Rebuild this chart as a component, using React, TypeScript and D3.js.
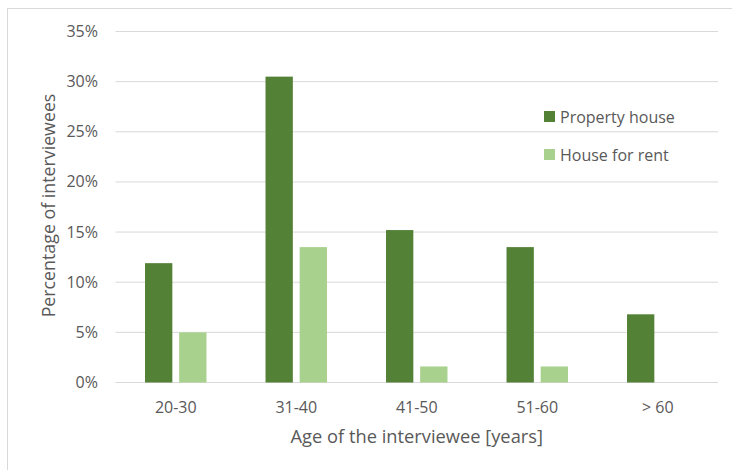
import React from 'react';
import * as d3 from 'd3';

const categories = ['20-30', '31-40', '41-50', '51-60', '> 60'];
const seriesNames = ['Property house', 'House for rent'];
const propertyHouse = [11.9, 30.5, 15.2, 13.5, 6.8];
const houseForRent = [5.0, 13.5, 1.6, 1.6, 0];
const yTicks = [0, 5, 10, 15, 20, 25, 30, 35];

const colors = ['#538135', '#A9D18E'];
const textColor = '#595959';
const gridColor = '#D9D9D9';
const font = '"Open Sans", "Segoe UI", sans-serif';

const width = 732;
const height = 470;
const plot = { left: 115.5, right: 718, top: 31.5, bottom: 382.5 };

const App = () => {
  const x0 = d3.scaleBand<string>()
    .domain(categories)
    .range([plot.left, plot.right])
    .paddingInner(0.49)
    .paddingOuter(0.245);
  const x1 = d3.scaleBand<string>()
    .domain(seriesNames)
    .range([0, x0.bandwidth()])
    .paddingInner(0.2);
  const y = d3.scaleLinear().domain([0, 35]).range([plot.bottom, plot.top]);

  const values = [propertyHouse, houseForRent];
  const cx = (plot.left + plot.right) / 2;

  return (
    <svg
      width={width}
      height={height}
      style={{ position: 'absolute', left: 0, top: 0, background: '#fff' }}
      fontFamily={font}
    >
      <rect x={7.5} y={8.5} width={800} height={600} fill="#fff" stroke={gridColor} />

      <g className="grid">
        {yTicks.map((t) => (
          <g key={t}>
            <line x1={plot.left} x2={plot.right} y1={y(t)} y2={y(t)} stroke={gridColor} strokeWidth={1} />
            <text x={98} y={y(t) + 5.5} textAnchor="end" fontSize={16} fill={textColor}>
              {t}%
            </text>
          </g>
        ))}
      </g>

      <g className="bars">
        {categories.map((c, i) => (
          <g key={c} transform={`translate(${x0(c)},0)`}>
            {seriesNames.map((s, j) => {
              const v = values[j][i];
              if (!v) return null;
              return (
                <rect
                  key={s}
                  x={x1(s)}
                  y={y(v)}
                  width={x1.bandwidth()}
                  height={y(0) - y(v)}
                  fill={colors[j]}
                />
              );
            })}
          </g>
        ))}
      </g>

      <g className="x-labels">
        {categories.map((c) => (
          <text
            key={c}
            x={(x0(c) as number) + x0.bandwidth() / 2}
            y={413}
            textAnchor="middle"
            fontSize={16}
            fill={textColor}
          >
            {c}
          </text>
        ))}
      </g>

      <text x={cx} y={443} textAnchor="middle" fontSize={18.3} fill={textColor}>
        Age of the interviewee [years]
      </text>
      <text
        transform="translate(55,205.5) rotate(-90)"
        textAnchor="middle"
        fontSize={17.8}
        fill={textColor}
      >
        Percentage of interviewees
      </text>

      <g className="legend">
        {seriesNames.map((s, j) => (
          <g key={s} transform={`translate(544,${111 + j * 38})`}>
            <rect x={0} y={0} width={11} height={11} fill={colors[j]} />
            <text x={16} y={11.5} fontSize={16} fill={textColor}>
              {s}
            </text>
          </g>
        ))}
      </g>
    </svg>
  );
};

export default App;
